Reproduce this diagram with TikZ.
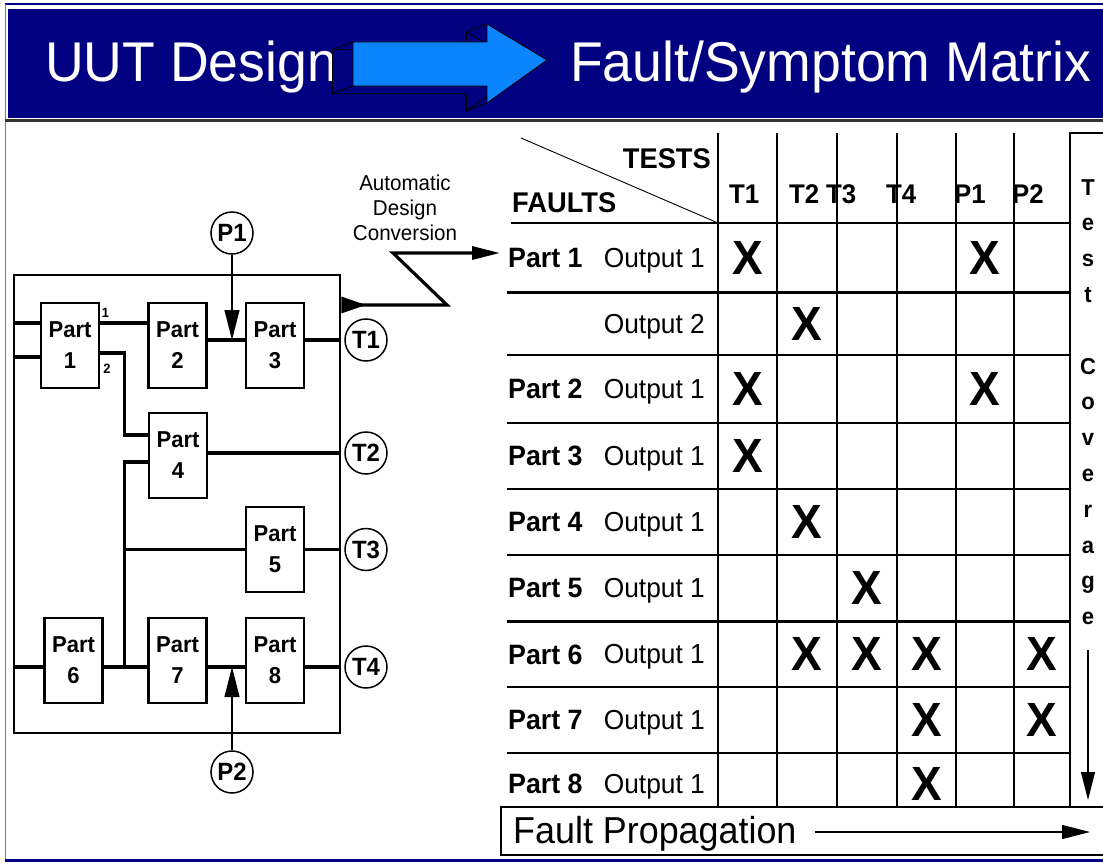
\documentclass[tikz,border=0pt]{standalone}
\usepackage{fontspec}
\setmainfont{Liberation Sans}[FakeStretch=0.957]
\usetikzlibrary{arrows.meta}
\definecolor{slidenavy}{HTML}{000080}
\definecolor{arrowblue}{HTML}{0A84FF}
\tikzset{
  title text/.style={text=white, inner sep=0pt, font=\fontsize{56}{60}\selectfont},
  part box/.style={draw, line width=2.2pt, minimum width=58pt, minimum height=85pt, inner sep=0pt, align=center, font=\fontsize{23}{31}\selectfont\bfseries},
  test point/.style={circle, draw, line width=1.5pt, minimum size=42pt, inner sep=0pt, font=\fontsize{25}{25}\selectfont\bfseries},
  pin label/.style={inner sep=0pt, font=\fontsize{13.5}{13.5}\selectfont\bfseries},
  wire/.style={line width=3.1pt},
  probe/.style={line width=1.2pt, -{Triangle[length=30pt, width=15pt]}},
  conv arrow/.style={line width=3.2pt, line join=miter, {Triangle[reversed, length=25pt, width=16pt]}-{Triangle[length=28pt, width=13pt]}},
  grid line/.style={line width=2.7pt},
  fault part/.style={anchor=west, inner sep=0pt, text depth=0pt, font=\fontsize{28}{28}\selectfont\bfseries},
  fault out/.style={anchor=east, inner sep=0pt, text depth=0pt, font=\fontsize{27.5}{27.5}\selectfont},
  fault mark/.style={inner sep=0pt, text depth=0pt, font=\fontsize{48}{48}\selectfont\bfseries},
  col head/.style={anchor=base west, inner sep=0pt, font=\fontsize{27}{27}\selectfont\bfseries},
  coverage letter/.style={anchor=base, inner sep=0pt, font=\fontsize{23}{23}\selectfont\bfseries},
  prop arrow/.style={line width=1.2pt, -{Triangle[length=28pt, width=14pt]}}
}

\begin{document}
\begin{tikzpicture}[x=1pt, y=-1pt]
  \useasboundingbox (0,0) rectangle (1103,864);

  % --- Slide frame and title band ---
  \draw[slidenavy, line width=2pt] (5,4.5) -- (1104,4.5);
  \draw[slidenavy!55, line width=1.2pt] (5.5,4) -- (5.5,861);
  \fill[slidenavy] (8,9) rectangle (1104,118);
  \draw[black!80, line width=2.5pt] (5,120.5) -- (1104,120.5);
  \draw[slidenavy, line width=3pt] (5,860) -- (1104,860);

  \node[title text, anchor=base west] (uutTitle) at (45,82) {UUT Design};
  \node[title text, anchor=base west] (fsmTitle) at (570,82) {Fault/Symptom Matrix};

  % 3-D block arrow between the titles
  \begin{scope}[shift={(-20.5,7.8)}]
    \filldraw[fill=slidenavy, draw=black, line width=0.8pt]
      (353,42) -- (487,42) -- (487,24) -- (547,60) -- (487,103) -- (487,86) -- (353,86) -- cycle;
  \end{scope}
  \foreach \px/\py in {353/42, 353/86, 487/24, 487/103}
    \draw[line width=0.8pt] (\px,\py) -- ++(-20.5,7.8);
  \filldraw[fill=arrowblue, draw=black, line width=0.8pt]
    (353,42) -- (487,42) -- (487,24) -- (547,60) -- (487,103) -- (487,86) -- (353,86) -- cycle;

  % --- UUT schematic ---
  \node[draw, line width=2.5pt, minimum width=326pt, minimum height=458pt] (uut) at (177,504) {};

  \node[part box] (part1) at (70,345.5) {Part\\1};
  \node[part box] (part2) at (177.5,345.5) {Part\\2};
  \node[part box] (part3) at (275,345.5) {Part\\3};
  \node[part box] (part4) at (178,455.5) {Part\\4};
  \node[part box] (part5) at (275,549.5) {Part\\5};
  \node[part box] (part6) at (73.5,660.5) {Part\\6};
  \node[part box] (part7) at (177.5,660.5) {Part\\7};
  \node[part box] (part8) at (275,660.5) {Part\\8};

  \node[test point] (t1) at (366,340) {T1};
  \node[test point] (t2) at (366,453) {T2};
  \node[test point] (t3) at (366,549.5) {T3};
  \node[test point] (t4) at (366,667) {T4};
  \node[test point] (pr1) at (232,233) {P1};
  \node[test point] (pr2) at (232,772) {P2};

  \node[pin label] (pin1) at (105.5,313) {1};
  \node[pin label] (pin2) at (107,369) {2};

  \coordinate (in1) at (14,323);
  \coordinate (in2) at (14,357);
  \coordinate (bus) at (124.5,462);
  \coordinate (p4in) at (part4.west |- 0,435);

  % wires
  \draw[wire] (in1) -- (in1 -| part1.west);
  \draw[wire] (in2) -- (in2 -| part1.west);
  \draw[wire] (in1 -| part1.east) -- (in1 -| part2.west);
  \draw[wire] (part2.east |- t1) -- (part3.west |- t1);
  \draw[wire] (part3.east |- t1) -- (uut.east |- t1);
  \draw[wire] (part1.east |- 0,353) -| (bus |- p4in) -- (p4in);
  \draw[wire] (part4.west |- bus) -- (bus) -- (bus |- t4);
  \draw[wire] (part4.east |- t2) -- (uut.east |- t2);
  \draw[wire] (bus |- t3) -- (part5.west |- t3);
  \draw[wire] (part5.east |- t3) -- (uut.east |- t3);
  \draw[wire] (uut.west |- t4) -- (part6.west |- t4);
  \draw[wire] (part6.east |- t4) -- (part7.west |- t4);
  \draw[wire] (part7.east |- t4) -- (part8.west |- t4);
  \draw[wire] (part8.east |- t4) -- (uut.east |- t4);

  % probe points
  \draw[probe] (pr1) -- (pr1 |- t1);
  \draw[probe] (pr2) -- (pr2 |- t4);

  % --- Conversion arrow ---
  \node[align=center, inner sep=0pt, font=\fontsize{21.5}{25}\selectfont] (conv) at (405,207.5)
    {Automatic\\Design\\Conversion};

  % --- Fault/symptom matrix ---
  \foreach \c/\x in {1/747.5, 2/807, 3/867, 4/926.5, 5/985, 6/1042}
    \coordinate (col\c) at (\x,0);
  \foreach \r/\y in {1/257.75, 2/323.75, 3/389, 4/456, 5/522, 6/588.25, 7/654.25, 8/720, 9/784}
    \coordinate (row\r) at (0,\y);

  \foreach \x in {718,777,837,897,956,1014}
    \draw[grid line] (\x,133) -- (\x,807);
  \draw[grid line] (511,223) -- (1070,223);
  \foreach \y in {292.5,355,423,489,555,621.5,687,753}
    \draw[grid line] (507,\y) -- (1070,\y);
  \draw[line width=0.9pt] (521,138) -- (718,223);

  \node[anchor=base east, inner sep=0pt, font=\fontsize{28.5}{28.5}\selectfont\bfseries] (tests) at (711,168) {TESTS};
  \node[anchor=base west, inner sep=0pt, font=\fontsize{28.5}{28.5}\selectfont\bfseries] (faults) at (512,212) {FAULTS};

  \foreach \name/\x in {T1/729, T2/789, T3/826, T4/886, P1/954, P2/1012}
    \node[col head] (h\name) at (\x,203) {\name};

  \foreach \r/\p in {1/1, 3/2, 4/3, 5/4, 6/5, 7/6, 8/7, 9/8}
    \node[fault part] (fp\p) at (508,0 |- row\r) {Part \p};
  \foreach \r/\o in {1/1, 2/2, 3/1, 4/1, 5/1, 6/1, 7/1, 8/1, 9/1}
    \node[fault out] (fo\r) at (705,0 |- row\r) {Output \o};

  \foreach \c/\r in {1/1, 5/1, 2/2, 1/3, 5/3, 1/4, 2/5, 3/6, 2/7, 3/7, 4/7, 6/7, 4/8, 6/8, 4/9}
    \node[fault mark] (x\c-\r) at (col\c |- row\r) {X};

  \coordinate (kink1) at (447,305);
  \coordinate (kink2) at (393,253);
  \draw[conv arrow, shorten >=8pt] (uut.east |- kink1) -- (kink1) -- (kink2) -- (kink2 -| fp1.west);

  % Test coverage column
  \draw[line width=2pt] (1104,133) -- (1070,133) -- (1070,807);
  \foreach \ch/\i in {T/0, e/1, s/2, t/3, C/5, o/6, v/7, e/8, r/9, a/10, g/11, e/12}
    \node[coverage letter] (cov\i) at (1088,{195+35.8*\i}) {\ch};
  \coordinate (covend) at (1088,800);
  \draw[prop arrow, shorten <=25pt] (cov12.south) -- (covend);

  % Fault propagation box
  \draw[line width=1.4pt] (1104,807) -- (501,807) -- (501,855) -- (1104,855);
  \node[anchor=base west, inner sep=0pt, font=\fontsize{37.5}{37.5}\selectfont] (fprop) at (513,843) {Fault Propagation};
  \coordinate (propend) at (1090,832);
  \draw[prop arrow, shorten <=18pt] (fprop.east |- propend) -- (propend);
\end{tikzpicture}
\end{document}
